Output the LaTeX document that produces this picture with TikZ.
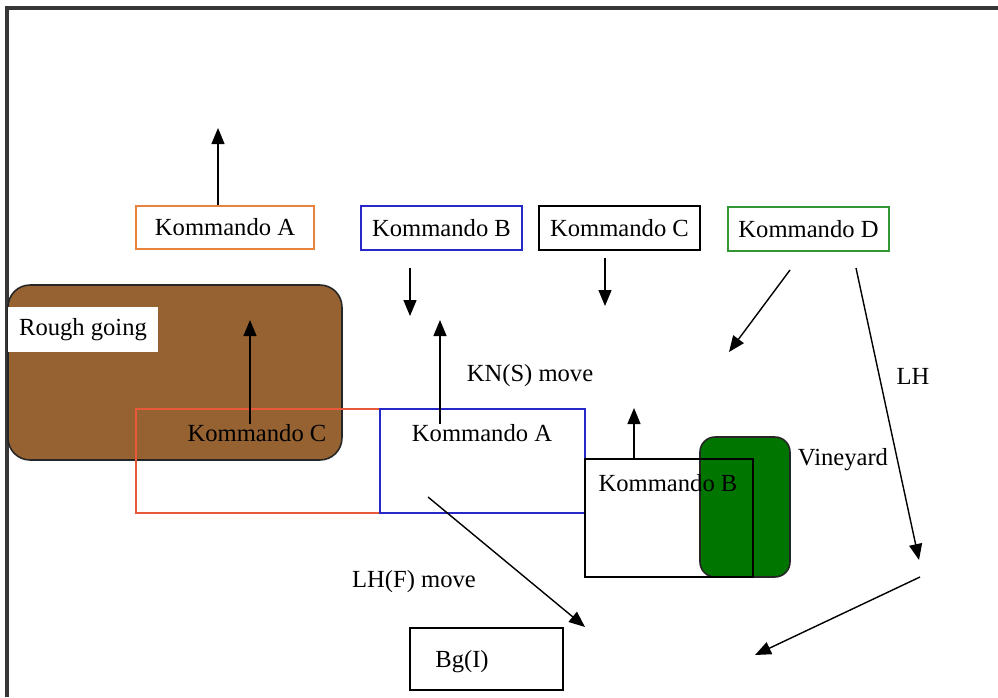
\documentclass[tikz,border=0pt]{standalone}
\usepackage{fontspec}
\setmainfont{Liberation Serif}
\usepackage{tikz}
\usetikzlibrary{arrows.meta,positioning}
\definecolor{kaorange}{RGB}{232,130,60}
\definecolor{kcred}{RGB}{232,88,58}
\definecolor{kblue}{RGB}{40,40,200}
\definecolor{kdgreen}{RGB}{50,150,50}
\definecolor{roughbrown}{RGB}{150,98,50}
\definecolor{vinegreen}{RGB}{0,118,0}
\definecolor{framegray}{RGB}{55,55,55}
\tikzset{
  cmdbox/.style={draw, line width=0.9pt, inner sep=0pt, minimum width=3.22cm, minimum height=0.88cm},
  zone/.style={draw, line width=0.9pt, inner sep=0pt},
  lbl/.style={inner sep=0pt},
  arr/.style={line width=0.8pt, -{Triangle[length=0.32cm, width=0.26cm]}}
}

\begin{document}
\begin{tikzpicture}[x=0.02cm, y=-0.02cm, font=\fontsize{14}{16}\selectfont]
    \useasboundingbox (0,0) rectangle (998,697);
    % frame
    \draw[framegray, line width=2.2pt] (7,697) -- (7,8) -- (998,8);

    % terrain
    \node[zone, draw=black!85, fill=roughbrown, rounded corners=0.44cm,
          minimum width=6.68cm, minimum height=3.5cm] (rough) at (175,372.5) {};
    \node[fill=white, minimum width=3.0cm, minimum height=0.9cm, inner sep=0pt] (roughlbl) at (83,329.5) {Rough going};
    \node[zone, draw=black!85, fill=vinegreen, rounded corners=0.3cm,
          minimum width=1.8cm, minimum height=2.8cm] (vine) at (745,507) {};
    \node[lbl] (vinelbl) at (843,460) {Vineyard};

    % top row
    \node[cmdbox, draw=kaorange, minimum width=3.56cm, minimum height=0.86cm] (kat) at (225,227.5) {Kommando A};
    \node[cmdbox, draw=kblue] (kbt) at (441.5,228) {Kommando B};
    \node[cmdbox, draw=black] (kct) at (619.5,228) {Kommando C};
    \node[cmdbox, draw=kdgreen] (kdt) at (808.5,229) {Kommando D};

    % positions
    \node[zone, draw=kcred, minimum width=4.88cm, minimum height=2.08cm] (kcbox) at (258,461) {};
    \node[lbl] (kclbl) at (257,433) {Kommando C};
    \node[zone, draw=kblue, minimum width=4.1cm, minimum height=2.08cm] (kabox) at (482.5,461) {};
    \node[lbl] (kalbl) at (482,433) {Kommando A};
    \node[zone, draw=black, minimum width=3.36cm, minimum height=2.36cm] (kbbox) at (669,518) {};
    \node[lbl] (kblbl) at (668,483) {Kommando B};
    \node[zone, draw=black, minimum width=3.06cm, minimum height=1.24cm] (bg) at (486.5,659) {};
    \node[lbl] (bglbl) at (462,662) {Bg(I)};

    % move labels
    \node[lbl] (knsmove) at (530,376) {KN(S) move};
    \node[lbl] (lhfmove) at (414,582) {LH(F) move};
    \node[lbl] (lh) at (913,376) {LH};

    % arrow ends
    \coordinate (kaup) at (218,128);
    \coordinate (kbs) at (410,268);
    \coordinate (kbe) at (410,316);
    \coordinate (kcs) at (605,258);
    \coordinate (kce) at (605,306);
    \coordinate (kds) at (790,270);
    \coordinate (kde) at (729,352);
    \coordinate (lhs) at (856,268);
    \coordinate (lhe) at (919,560);
    \coordinate (lhts) at (920,577);
    \coordinate (lhte) at (755,655);
    \coordinate (kcup) at (250,320);
    \coordinate (kaposup) at (440,320);
    \coordinate (kbup) at (634,408);
    \coordinate (lhfs) at (428,497);
    \coordinate (lhfe) at (585,627);

    % moves
    \draw[arr] (kaup |- kat.north) -- (kaup);
    \draw[arr] (kbs) -- (kbe);
    \draw[arr] (kcs) -- (kce);
    \draw[arr] (kds) -- (kde);
    \draw[arr] (lhs) -- (lhe);
    \draw[arr] (lhts) -- (lhte);
    \draw[arr] (kcup |- kclbl.north) -- (kcup);
    \draw[arr] (kaposup |- kalbl.north) -- (kaposup);
    \draw[arr] (kbup |- kbbox.north) -- (kbup);
    \draw[arr] (lhfs) -- (lhfe);
  \end{tikzpicture}
\end{document}
